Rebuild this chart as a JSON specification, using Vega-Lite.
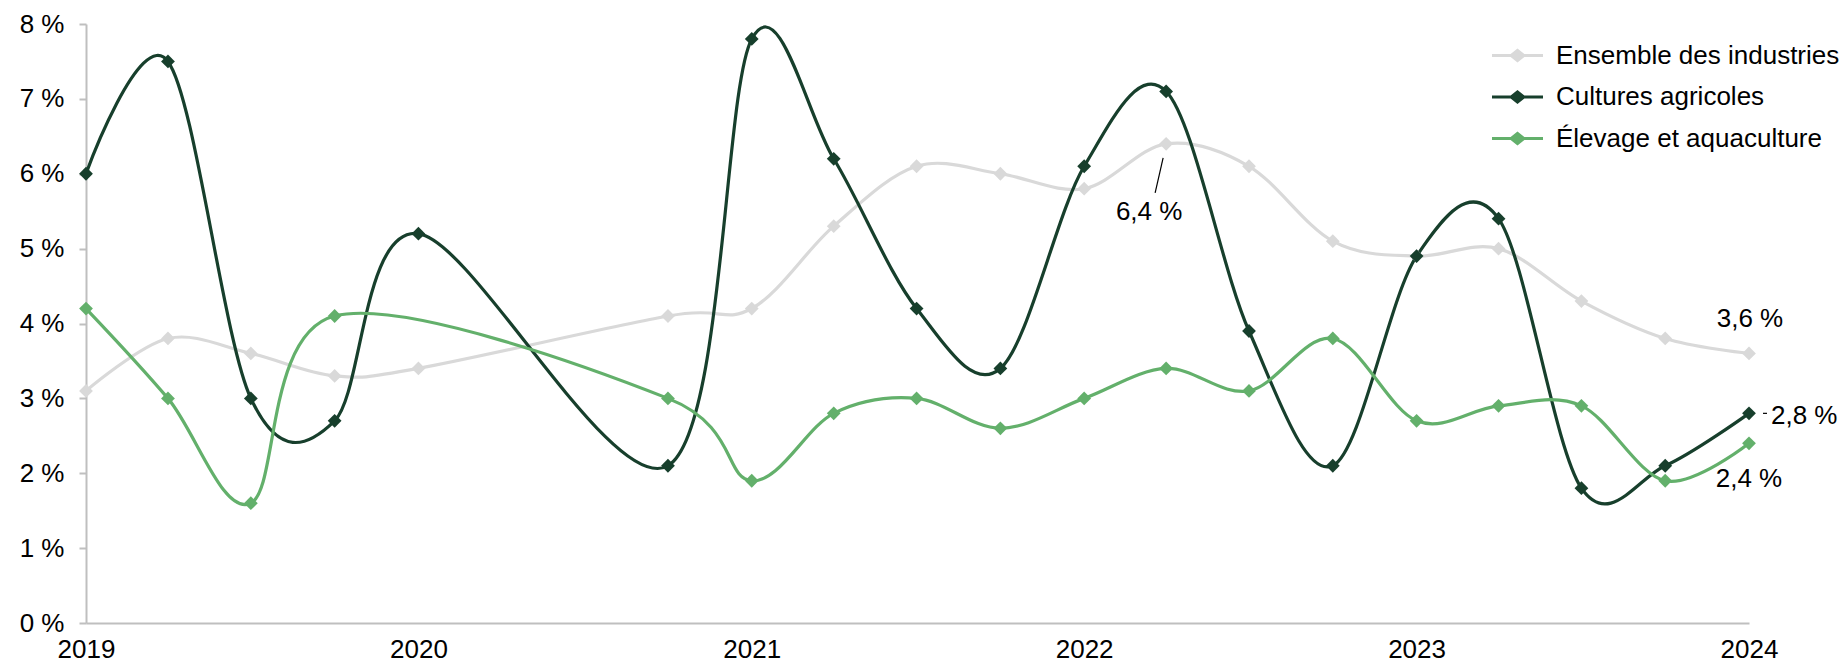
{
  "$schema": "https://vega.github.io/schema/vega-lite/v6.json",
  "width": 1663,
  "height": 599,
  "autosize": {"type": "none"},
  "padding": {"left": 86, "top": 24, "right": 96, "bottom": 39},
  "config": {
    "view": {"stroke": null},
    "font": "Liberation Sans",
    "legend": {
      "symbolType": "M-1,-0.06L-0.27,-0.06L0,-0.27L0.27,-0.06L1,-0.06L1,0.06L0.27,0.06L0,0.27L-0.27,0.06L-1,0.06Z",
      "symbolSize": 2601, "symbolStrokeWidth": 0, "symbolOpacity": 1,
      "labelFontSize": 26, "labelColor": "#000000", "labelFont": "Liberation Sans", "labelOffset": 13, "labelLimit": 400,
      "rowPadding": 2.5
    }
  },
  "datasets": {
    "series": [
      {"quarter": "2019-01-01", "series": "Ensemble des industries", "value": 3.1},
      {"quarter": "2019-04-01", "series": "Ensemble des industries", "value": 3.8},
      {"quarter": "2019-07-01", "series": "Ensemble des industries", "value": 3.6},
      {"quarter": "2019-10-01", "series": "Ensemble des industries", "value": 3.3},
      {"quarter": "2020-01-01", "series": "Ensemble des industries", "value": 3.4},
      {"quarter": "2020-04-01", "series": "Ensemble des industries", "value": null},
      {"quarter": "2020-07-01", "series": "Ensemble des industries", "value": null},
      {"quarter": "2020-10-01", "series": "Ensemble des industries", "value": 4.1},
      {"quarter": "2021-01-01", "series": "Ensemble des industries", "value": 4.2},
      {"quarter": "2021-04-01", "series": "Ensemble des industries", "value": 5.3},
      {"quarter": "2021-07-01", "series": "Ensemble des industries", "value": 6.1},
      {"quarter": "2021-10-01", "series": "Ensemble des industries", "value": 6.0},
      {"quarter": "2022-01-01", "series": "Ensemble des industries", "value": 5.8},
      {"quarter": "2022-04-01", "series": "Ensemble des industries", "value": 6.4},
      {"quarter": "2022-07-01", "series": "Ensemble des industries", "value": 6.1},
      {"quarter": "2022-10-01", "series": "Ensemble des industries", "value": 5.1},
      {"quarter": "2023-01-01", "series": "Ensemble des industries", "value": 4.9},
      {"quarter": "2023-04-01", "series": "Ensemble des industries", "value": 5.0},
      {"quarter": "2023-07-01", "series": "Ensemble des industries", "value": 4.3},
      {"quarter": "2023-10-01", "series": "Ensemble des industries", "value": 3.8},
      {"quarter": "2024-01-01", "series": "Ensemble des industries", "value": 3.6},
      {"quarter": "2019-01-01", "series": "Cultures agricoles", "value": 6.0},
      {"quarter": "2019-04-01", "series": "Cultures agricoles", "value": 7.5},
      {"quarter": "2019-07-01", "series": "Cultures agricoles", "value": 3.0},
      {"quarter": "2019-10-01", "series": "Cultures agricoles", "value": 2.7},
      {"quarter": "2020-01-01", "series": "Cultures agricoles", "value": 5.2},
      {"quarter": "2020-04-01", "series": "Cultures agricoles", "value": null},
      {"quarter": "2020-07-01", "series": "Cultures agricoles", "value": null},
      {"quarter": "2020-10-01", "series": "Cultures agricoles", "value": 2.1},
      {"quarter": "2021-01-01", "series": "Cultures agricoles", "value": 7.8},
      {"quarter": "2021-04-01", "series": "Cultures agricoles", "value": 6.2},
      {"quarter": "2021-07-01", "series": "Cultures agricoles", "value": 4.2},
      {"quarter": "2021-10-01", "series": "Cultures agricoles", "value": 3.4},
      {"quarter": "2022-01-01", "series": "Cultures agricoles", "value": 6.1},
      {"quarter": "2022-04-01", "series": "Cultures agricoles", "value": 7.1},
      {"quarter": "2022-07-01", "series": "Cultures agricoles", "value": 3.9},
      {"quarter": "2022-10-01", "series": "Cultures agricoles", "value": 2.1},
      {"quarter": "2023-01-01", "series": "Cultures agricoles", "value": 4.9},
      {"quarter": "2023-04-01", "series": "Cultures agricoles", "value": 5.4},
      {"quarter": "2023-07-01", "series": "Cultures agricoles", "value": 1.8},
      {"quarter": "2023-10-01", "series": "Cultures agricoles", "value": 2.1},
      {"quarter": "2024-01-01", "series": "Cultures agricoles", "value": 2.8},
      {"quarter": "2019-01-01", "series": "Élevage et aquaculture", "value": 4.2},
      {"quarter": "2019-04-01", "series": "Élevage et aquaculture", "value": 3.0},
      {"quarter": "2019-07-01", "series": "Élevage et aquaculture", "value": 1.6},
      {"quarter": "2019-10-01", "series": "Élevage et aquaculture", "value": 4.1},
      {"quarter": "2020-01-01", "series": "Élevage et aquaculture", "value": null},
      {"quarter": "2020-04-01", "series": "Élevage et aquaculture", "value": null},
      {"quarter": "2020-07-01", "series": "Élevage et aquaculture", "value": null},
      {"quarter": "2020-10-01", "series": "Élevage et aquaculture", "value": 3.0},
      {"quarter": "2021-01-01", "series": "Élevage et aquaculture", "value": 1.9},
      {"quarter": "2021-04-01", "series": "Élevage et aquaculture", "value": 2.8},
      {"quarter": "2021-07-01", "series": "Élevage et aquaculture", "value": 3.0},
      {"quarter": "2021-10-01", "series": "Élevage et aquaculture", "value": 2.6},
      {"quarter": "2022-01-01", "series": "Élevage et aquaculture", "value": 3.0},
      {"quarter": "2022-04-01", "series": "Élevage et aquaculture", "value": 3.4},
      {"quarter": "2022-07-01", "series": "Élevage et aquaculture", "value": 3.1},
      {"quarter": "2022-10-01", "series": "Élevage et aquaculture", "value": 3.8},
      {"quarter": "2023-01-01", "series": "Élevage et aquaculture", "value": 2.7},
      {"quarter": "2023-04-01", "series": "Élevage et aquaculture", "value": 2.9},
      {"quarter": "2023-07-01", "series": "Élevage et aquaculture", "value": 2.9},
      {"quarter": "2023-10-01", "series": "Élevage et aquaculture", "value": 1.9},
      {"quarter": "2024-01-01", "series": "Élevage et aquaculture", "value": 2.4}
    ],
    "labels": [
      {"quarter": "2022-04-01", "value": 6.4, "label": "6,4 %"},
      {"quarter": "2024-01-01", "value": 3.6, "label": "3,6 %"},
      {"quarter": "2024-01-01", "value": 2.8, "label": "2,8 %"},
      {"quarter": "2024-01-01", "value": 2.4, "label": "2,4 %"}
    ]
  },
  "layer": [
    {
      "data": {"name": "series"},
      "transform": [{"filter": "datum.value != null"}],
      "mark": {"type": "line", "interpolate": "cardinal", "strokeWidth": 3.2},
      "encoding": {
        "x": {
          "field": "quarter", "type": "temporal",
          "scale": {"type": "utc", "nice": false},
          "axis": {
            "title": null, "format": "%Y", "tickCount": {"interval": "year", "step": 1},
            "ticks": false, "grid": false, "domainColor": "#bfbfbf", "domainWidth": 2,
            "labelFontSize": 26, "labelColor": "#000000", "labelPadding": 13, "labelFont": "Liberation Sans",
            "labelOverlap": false, "labelFlush": false
          }
        },
        "y": {
          "field": "value", "type": "quantitative",
          "scale": {"domain": [0, 8], "nice": false, "zero": true},
          "axis": {
            "title": null, "values": [0, 1, 2, 3, 4, 5, 6, 7, 8], "labelExpr": "datum.value + ' %'",
            "grid": false, "domainColor": "#bfbfbf", "domainWidth": 2, "tickColor": "#bfbfbf", "tickWidth": 2, "tickSize": 7,
            "labelFontSize": 26, "labelColor": "#000000", "labelPadding": 15, "labelFont": "Liberation Sans"
          }
        },
        "color": {
          "field": "series", "type": "nominal",
          "scale": {"domain": ["Ensemble des industries", "Cultures agricoles", "Élevage et aquaculture"], "range": ["#d9d9d9", "#173f2c", "#63b06b"]},
          "legend": {"title": null, "orient": "none", "legendX": 1406, "legendY": 6}
        }
      }
    },
    {
      "data": {"name": "series"},
      "transform": [{"filter": "datum.value != null"}],
      "mark": {"type": "point", "shape": "diamond", "filled": true, "size": 190, "opacity": 1},
      "encoding": {
        "x": {"field": "quarter", "type": "temporal"},
        "y": {"field": "value", "type": "quantitative"},
        "color": {
          "field": "series", "type": "nominal",
          "legend": {"title": null, "orient": "none", "legendX": 1406, "legendY": 6}
        }
      }
    },
    {
      "data": {"name": "labels"},
      "transform": [{"filter": "datum.label == '6,4 %'"}],
      "mark": {"type": "rule", "color": "#000000", "strokeWidth": 1.2, "xOffset": -3, "yOffset": 14, "x2Offset": -11, "y2Offset": 49},
      "encoding": {
        "x": {"field": "quarter", "type": "temporal"},
        "y": {"field": "value", "type": "quantitative"},
        "x2": {"field": "quarter"},
        "y2": {"field": "value"}
      }
    },
    {
      "data": {"name": "labels"},
      "transform": [{"filter": "datum.label == '2,8 %'"}],
      "mark": {"type": "rule", "color": "#000000", "strokeWidth": 1.2, "xOffset": 14, "yOffset": 0, "x2Offset": 18, "y2Offset": 0},
      "encoding": {
        "x": {"field": "quarter", "type": "temporal"},
        "y": {"field": "value", "type": "quantitative"},
        "x2": {"field": "quarter"},
        "y2": {"field": "value"}
      }
    },
    {
      "data": {"name": "labels"},
      "transform": [{"filter": "datum.label == '6,4 %'"}],
      "mark": {"type": "text", "fontSize": 26, "font": "Liberation Sans", "color": "#000000", "align": "center", "baseline": "middle", "dx": -17, "dy": 68},
      "encoding": {
        "x": {"field": "quarter", "type": "temporal"},
        "y": {"field": "value", "type": "quantitative"},
        "text": {"field": "label"}
      }
    },
    {
      "data": {"name": "labels"},
      "transform": [{"filter": "datum.label == '3,6 %'"}],
      "mark": {"type": "text", "fontSize": 26, "font": "Liberation Sans", "color": "#000000", "align": "center", "baseline": "middle", "dx": 1, "dy": -34},
      "encoding": {
        "x": {"field": "quarter", "type": "temporal"},
        "y": {"field": "value", "type": "quantitative"},
        "text": {"field": "label"}
      }
    },
    {
      "data": {"name": "labels"},
      "transform": [{"filter": "datum.label == '2,8 %'"}],
      "mark": {"type": "text", "fontSize": 26, "font": "Liberation Sans", "color": "#000000", "align": "left", "baseline": "middle", "dx": 22, "dy": 3},
      "encoding": {
        "x": {"field": "quarter", "type": "temporal"},
        "y": {"field": "value", "type": "quantitative"},
        "text": {"field": "label"}
      }
    },
    {
      "data": {"name": "labels"},
      "transform": [{"filter": "datum.label == '2,4 %'"}],
      "mark": {"type": "text", "fontSize": 26, "font": "Liberation Sans", "color": "#000000", "align": "center", "baseline": "middle", "dx": 0, "dy": 36},
      "encoding": {
        "x": {"field": "quarter", "type": "temporal"},
        "y": {"field": "value", "type": "quantitative"},
        "text": {"field": "label"}
      }
    }
  ]
}
